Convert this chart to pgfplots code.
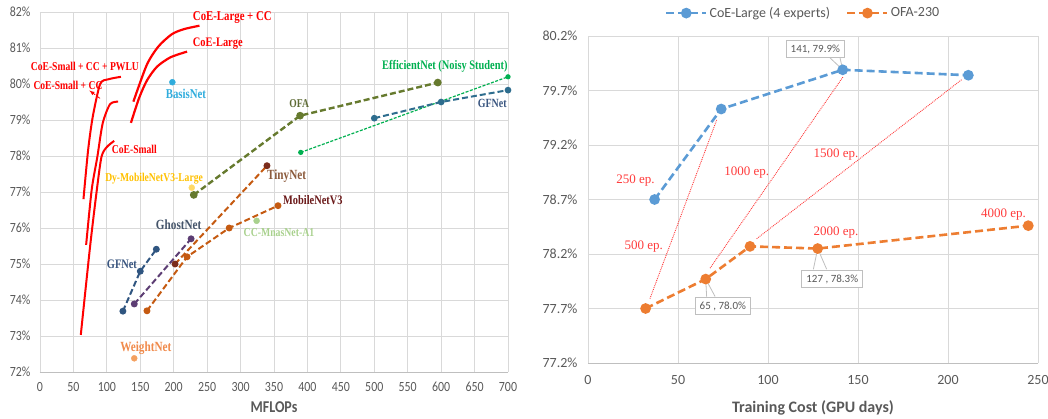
\documentclass[border=0pt]{standalone}
\usepackage{pgfplots}
\pgfplotsset{compat=1.18}
\usepackage{fontspec}
\setmainfont{Carlito}
\newfontfamily\sqz[FakeStretch=0.85]{Carlito}
\newfontfamily\ann[FakeStretch=0.8]{Liberation Serif}
\newfontfamily\annr{Liberation Serif}
\definecolor{tickc}{HTML}{595959}
\definecolor{gridc}{HTML}{D9D9D9}
\definecolor{axc}{HTML}{BFBFBF}
\definecolor{coe}{HTML}{FF0000}
\definecolor{basis}{HTML}{30ACDC}
\definecolor{dyc}{HTML}{FFD966}
\definecolor{dyl}{HTML}{FFC000}
\definecolor{ofa}{HTML}{667A2E}
\definecolor{ofal}{HTML}{5E6B35}
\definecolor{gfl}{HTML}{2F5580}
\definecolor{gflab}{HTML}{3A5680}
\definecolor{gfr}{HTML}{2E6D8E}
\definecolor{ghost}{HTML}{5C3D73}
\definecolor{ghostl}{HTML}{44546A}
\definecolor{mob}{HTML}{C55A11}
\definecolor{mobl}{HTML}{6B1A1A}
\definecolor{tiny}{HTML}{7B2C1C}
\definecolor{tinyl}{HTML}{8B5A3C}
\definecolor{mnas}{HTML}{A9D18E}
\definecolor{eff}{HTML}{00B050}
\definecolor{wn}{HTML}{F4A060}
\definecolor{wnl}{HTML}{F08A4B}
\definecolor{cblue}{HTML}{5B9BD5}
\definecolor{corange}{HTML}{ED7D31}
\definecolor{epred}{HTML}{FF3B3B}
\pgfplotsset{
  dsh/.style={line width=2pt, dash pattern=on 6pt off 3pt},
}
\tikzset{lab/.style={anchor=west, inner sep=0pt}}
\begin{document}
\begin{tikzpicture}
\path[use as bounding box] (0,0) rectangle (1048pt,418pt);
% ---------------- left panel ----------------
\begin{axis}[
  at={(40pt,46pt)}, anchor=south west, scale only axis,
  width=468pt, height=360pt,
  xmin=0, xmax=700, ymin=72, ymax=82,
  xtick={0,50,...,700},
  xticklabels={0,50,100,150,200,250,300,350,400,450,500,550,600,650,700},
  ytick={72,73,74,75,76,77,78,79,80,81,82},
  yticklabels={72\%,73\%,74\%,75\%,76\%,77\%,78\%,79\%,80\%,81\%,82\%},
  grid=major, major grid style={gridc, line width=0.8pt},
  axis line style={draw=none}, major tick length=0pt,
  ticklabel style={font=\sqz\fontsize{14}{16}\selectfont, text=tickc},
  yticklabel style={xshift=-6pt}, xticklabel style={yshift=-7pt},
  clip=false,
]
\draw[axc, line width=1pt] (rel axis cs:0,0) -- (rel axis cs:1,0);
% CoE curves
\addplot[coe, line width=2pt, smooth, tension=0.45] coordinates {(61,73.03) (75,75.5) (85,77.06) (92,77.98) (100,78.25) (111,78.42)};
\addplot[coe, line width=2pt, smooth, tension=0.45] coordinates {(69,75.53) (77.3,77.06) (85.8,77.98) (93.8,78.91) (104.8,79.44) (117,79.51)};
\addplot[coe, line width=2pt, smooth, tension=0.45] coordinates {(65,76.8) (72,78.17) (79,79.1) (90,80.0) (102,80.13) (121,80.2)};
\addplot[coe, line width=2.2pt, smooth, tension=0.45] coordinates {(136,78.92) (148,79.6) (160,80.1) (175,80.48) (195,80.74) (220,80.9)};
\addplot[coe, line width=2.2pt, smooth, tension=0.45] coordinates {(139.7,79.51) (159.7,80.53) (177,81.04) (197,81.38) (214.6,81.52) (238.5,81.62)};
\draw[coe, line width=0.8pt, dashed, -latex] (axis cs:89.8,79.6) -- (axis cs:73.8,79.82);
% other models
\addplot[eff, line width=1.2pt, dash pattern=on 3pt off 1.5pt, mark=*, mark size=2pt, mark options={solid}] coordinates {(390,78.1) (700,80.2)};
\addplot[gfr, dsh, mark=*, mark size=2.3pt, mark options={solid}] coordinates {(500,79.05) (600,79.5) (700,79.83)};
\addplot[ofa, dsh, line width=2.4pt, mark=*, mark size=2.6pt, mark options={solid}] coordinates {(230,76.92) (389,79.12) (595,80.04)};
\addplot[mob, dsh, mark=*, mark size=2.4pt, mark options={solid}] coordinates {(160,73.7) (220,75.2) (283,76.0) (356,76.62)};
\addplot[mob, dsh, mark=*, mark size=2.4pt, mark options={solid, fill=tiny, draw=tiny}] coordinates {(202,75.0) (339.5,77.73)};
\addplot[ghost, dsh, mark=*, mark size=2.4pt, mark options={solid}] coordinates {(141,73.89) (226,75.7)};
\addplot[gfl, dsh, mark=*, mark size=2.4pt, mark options={solid}] coordinates {(124,73.69) (150,74.8) (174,75.41)};
\addplot[only marks, mark=*, mark size=3pt, basis] coordinates {(198,80.05)};
\addplot[only marks, mark=*, mark size=3pt, dyc] coordinates {(227,77.12)};
\addplot[only marks, mark=*, mark size=3pt, mnas] coordinates {(324,76.2)};
\addplot[only marks, mark=*, mark size=3pt, wn] coordinates {(141,72.38)};
% labels
\node[lab, text=coe, font=\ann\bfseries\fontsize{13.5}{15}\selectfont] at (axis cs:228.5,81.85) {CoE-Large + CC};
\node[lab, text=coe, font=\ann\bfseries\fontsize{13}{15}\selectfont] at (axis cs:228.5,81.11) {CoE-Large};
\node[lab, text=coe, font=\ann\bfseries\fontsize{12}{14}\selectfont] at (axis cs:-13.9,80.48) {CoE-Small + CC + PWLU};
\node[lab, text=coe, font=\ann\bfseries\fontsize{12}{14}\selectfont] at (axis cs:-10,79.97) {CoE-Small + CC};
\node[lab, text=coe, font=\ann\bfseries\fontsize{12}{14}\selectfont] at (axis cs:107.3,78.19) {CoE-Small};
\node[lab, text=basis, font=\ann\bfseries\fontsize{13.5}{15}\selectfont] at (axis cs:188,79.73) {BasisNet};
\node[lab, text=dyl, font=\ann\bfseries\fontsize{12}{14}\selectfont] at (axis cs:97.3,77.38) {Dy-MobileNetV3-Large};
\node[lab, text=ofal, font=\ann\bfseries\fontsize{12}{14}\selectfont] at (axis cs:372.8,79.46) {OFA};
\node[lab, text=eff, font=\ann\bfseries\fontsize{13}{15}\selectfont] at (axis cs:511.5,80.5) {EfficientNet (Noisy Student)};
\node[lab, text=gflab, font=\ann\bfseries\fontsize{12.5}{14}\selectfont] at (axis cs:654.6,79.46) {GFNet};
\node[lab, text=tinyl, font=\ann\bfseries\fontsize{14}{16}\selectfont] at (axis cs:339.4,77.44) {TinyNet};
\node[lab, text=mobl, font=\ann\bfseries\fontsize{13}{15}\selectfont] at (axis cs:363.3,76.78) {MobileNetV3};
\node[lab, text=mnas, font=\ann\bfseries\fontsize{12.2}{14}\selectfont] at (axis cs:304.4,75.87) {CC-MnasNet-A1};
\node[lab, text=ghostl, font=\ann\bfseries\fontsize{14}{16}\selectfont] at (axis cs:173.2,76.08) {GhostNet};
\node[lab, text=gflab, font=\ann\bfseries\fontsize{13}{15}\selectfont] at (axis cs:99.8,74.99) {GFNet};
\node[lab, text=wnl, font=\ann\bfseries\fontsize{14}{16}\selectfont] at (axis cs:119.8,72.66) {WeightNet};
\end{axis}
% ---------------- right panel ----------------
\begin{axis}[
  at={(588pt,55pt)}, anchor=south west, scale only axis,
  width=450pt, height=327pt,
  xmin=0, xmax=250, ymin=77.2, ymax=80.2,
  xtick={0,50,...,250}, xticklabels={0,50,100,150,200,250},
  ytick={77.2,77.7,78.2,78.7,79.2,79.7,80.2},
  yticklabels={77.2\%,77.7\%,78.2\%,78.7\%,79.2\%,79.7\%,80.2\%},
  grid=major, major grid style={gridc, line width=0.8pt},
  axis line style={draw=none}, major tick length=0pt,
  ticklabel style={font=\fontsize{14}{16}\selectfont, text=tickc},
  yticklabel style={xshift=-7pt}, xticklabel style={yshift=-9pt},
  clip=false,
  legend style={at={(0.478,1.07)}, anchor=center, draw=none, fill=none,
    font=\fontsize{14}{16}\selectfont, text=tickc, legend columns=2,
    /tikz/every even column/.append style={column sep=14pt}},
  legend image code/.code={
    \draw[#1] (0pt,0pt) -- (40pt,0pt);
    \draw[#1, solid] plot[mark=*] coordinates {(20pt,0pt)};
  },
]
\draw[axc, line width=1pt] (rel axis cs:0,0) -- (rel axis cs:1,0);
\addplot[epred, line width=0.9pt, densely dotted, forget plot] coordinates {(34.4,77.79) (71.5,79.43)};
\addplot[epred, line width=0.9pt, densely dotted, forget plot] coordinates {(67.8,78.07) (141.9,79.83)};
\addplot[epred, line width=0.9pt, densely dotted, forget plot] coordinates {(93.7,78.34) (207.6,79.8)};
\addplot[cblue, line width=2.6pt, dash pattern=on 8pt off 4pt, mark=*, mark size=4pt, mark options={solid}] coordinates {(37,78.7) (74,79.53) (141.5,79.89) (211.3,79.84)};
\addlegendentry{CoE-Large (4 experts)}
\addplot[corange, line width=2.6pt, dash pattern=on 8pt off 4pt, mark=*, mark size=4pt, mark options={solid}] coordinates {(32,77.7) (65.4,77.97) (90,78.27) (127.6,78.25) (244.6,78.46)};
\addlegendentry{OFA-230}
% epoch labels
\node[lab, text=epred, font=\annr\fontsize{13}{15}\selectfont] at (axis cs:15.6,78.87) {250 ep.};
\node[lab, text=epred, font=\annr\fontsize{13}{15}\selectfont] at (axis cs:20.2,78.27) {500 ep.};
\node[lab, text=epred, font=\annr\fontsize{13}{15}\selectfont] at (axis cs:75.6,78.95) {1000 ep.};
\node[lab, text=epred, font=\annr\fontsize{13}{15}\selectfont] at (axis cs:125.2,79.11) {1500 ep.};
\node[lab, text=epred, font=\annr\fontsize{13}{15}\selectfont] at (axis cs:125.2,78.40) {2000 ep.};
\node[lab, text=epred, font=\annr\fontsize{13}{15}\selectfont] at (axis cs:218.3,78.56) {4000 ep.};
% callouts
\draw[axc, fill=white, line width=0.8pt] (axis cs:134.4,80.0) -- (axis cs:141.5,79.89) -- (axis cs:140,80.0);
\node[draw=axc, fill=white, line width=0.8pt, text=tickc, font=\fontsize{11}{13}\selectfont, inner xsep=4.5pt, inner ysep=4pt] at (axis cs:126.3,80.08) {141, 79.9\%};
\draw[axc, fill=white, line width=0.8pt] (axis cs:65.9,77.81) -- (axis cs:65.4,77.97) -- (axis cs:70.6,77.81);
\node[draw=axc, fill=white, line width=0.8pt, text=tickc, font=\fontsize{11}{13}\selectfont, inner xsep=4.5pt, inner ysep=4pt] at (axis cs:74.9,77.72) {65 , 78.0\%};
\draw[axc, fill=white, line width=0.8pt] (axis cs:125.2,78.06) -- (axis cs:127.6,78.25) -- (axis cs:132.6,78.06);
\node[draw=axc, fill=white, line width=0.8pt, text=tickc, font=\fontsize{11}{13}\selectfont, inner xsep=4.5pt, inner ysep=4pt] at (axis cs:135.7,77.97) {127 , 78.3\%};
\end{axis}
\node[font=\sqz\bfseries\fontsize{16.5}{18}\selectfont, text=tickc, inner sep=0pt] at (274pt,10.5pt) {MFLOPs};
\node[font=\bfseries\fontsize{16}{18}\selectfont, text=tickc, inner sep=0pt] at (813pt,10.5pt) {Training Cost (GPU days)};
\end{tikzpicture}
\end{document}
